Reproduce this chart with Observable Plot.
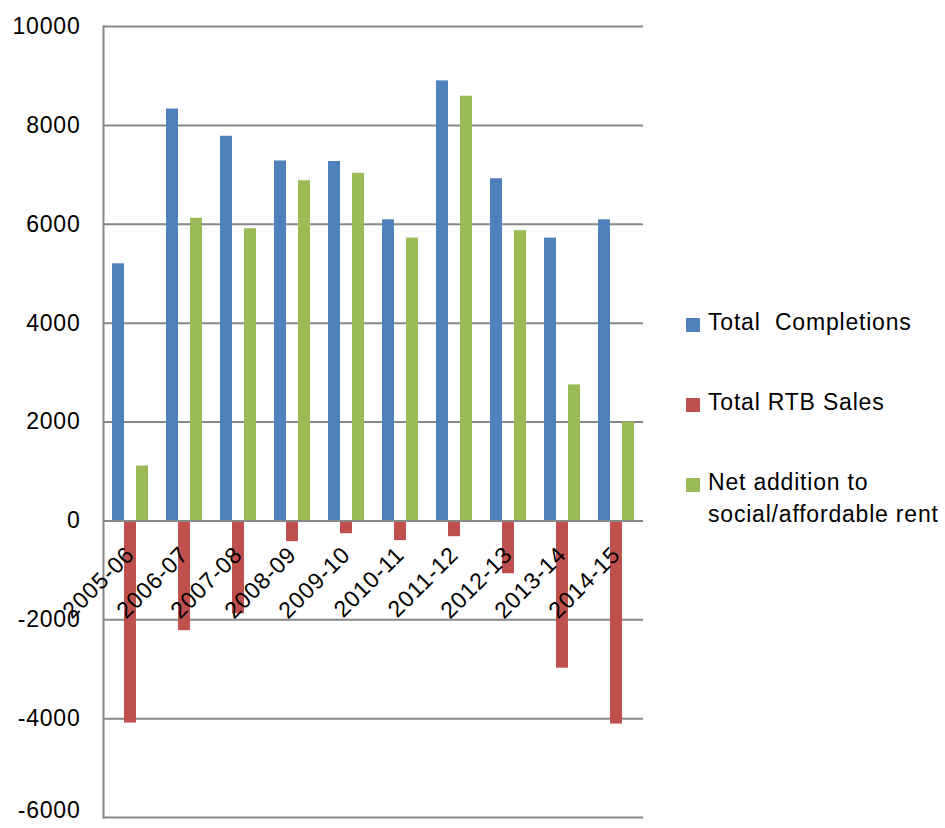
<!DOCTYPE html>
<html>
<head>
<meta charset="utf-8">
<script src="https://cdn.jsdelivr.net/npm/d3@7"></script>
<script src="https://cdn.jsdelivr.net/npm/@observablehq/plot@0.6"></script>
<style>
  html, body { margin: 0; padding: 0; background: #fff; }
  #wrap { position: relative; width: 945px; height: 828px; font-family: "Liberation Sans", Arial, sans-serif; }
  #legend { position: absolute; left: 686px; top: 306px; font-size: 23px; color: #000; letter-spacing: 0.8px; }
  .item { display: flex; align-items: flex-start; height: 80px; }
  .sw { width: 14px; height: 14px; margin-top: 12px; margin-right: 8px; flex: none; }
  .lab { line-height: 32px; white-space: pre; }
</style>
</head>
<body>
<div id="wrap"><div id="chart"></div><div id="legend"></div></div>
<script>
const categories = ["2005-06", "2006-07", "2007-08", "2008-09", "2009-10", "2010-11", "2011-12", "2012-13", "2013-14", "2014-15"];
const completions = [5200, 8330, 7780, 7280, 7270, 6090, 8900, 6920, 5720, 6090];
const rtbSales = [-4090, -2220, -1880, -420, -260, -400, -320, -1070, -2980, -4110];
const netAddition = [1110, 6120, 5910, 6880, 7030, 5720, 8590, 5870, 2750, 2000];
const seriesNames = ["Total  Completions", "Total RTB Sales", "Net addition to\nsocial/affordable rent"];
const seriesColors = ["#4F81BD", "#C0504D", "#9BBB59"];
const yTicks = [-6000, -4000, -2000, 0, 2000, 4000, 6000, 8000, 10000];

const seriesData = [completions, rtbSales, netAddition];
const offsets = [-12, 0, 12];
const gridColor = "#878787";

const barMarks = seriesData.map((vals, s) =>
  Plot.barY(vals, {
    x: (d, i) => categories[i],
    y: d => d,
    fill: seriesColors[s],
    dx: offsets[s],
    insetLeft: 21,
    insetRight: 21
  })
);

const chart = Plot.plot({
  width: 945,
  height: 828,
  marginTop: 26,
  marginBottom: 11,
  marginLeft: 103,
  marginRight: 302,
  style: { fontFamily: "'Liberation Sans', Arial, sans-serif", fontSize: "23px", color: "#000", background: "#fff", letterSpacing: "0.8px" },
  x: { domain: categories, padding: 0, axis: null },
  y: { domain: [-6000, 10000], axis: null },
  marks: [
    Plot.gridY(yTicks, { stroke: gridColor, strokeOpacity: 1, strokeWidth: 2 }),
    ...barMarks,
    Plot.ruleY([0], { stroke: gridColor, strokeWidth: 2 }),
    Plot.frame({ anchor: "left", stroke: gridColor, strokeWidth: 2 }),
    Plot.axisY(yTicks.slice(1), { tickSize: 0, tickPadding: 23, tickFormat: d => String(d), fontSize: 23, fill: "#000" }),
    Plot.axisY(yTicks.slice(0, 1), { tickSize: 0, tickPadding: 23, tickFormat: d => String(d), fontSize: 23, fill: "#000", dy: -7 }),
    Plot.text(categories, { x: d => d, y: () => 0, text: d => d, rotate: -45, textAnchor: "end", dy: 30, fontSize: 23, fill: "#000" })
  ]
});
document.getElementById("chart").appendChild(chart);

const legend = document.getElementById("legend");
seriesNames.forEach((name, i) => {
  const item = document.createElement("div");
  item.className = "item";
  const sw = document.createElement("div");
  sw.className = "sw";
  sw.style.background = seriesColors[i];
  const lab = document.createElement("div");
  lab.className = "lab";
  lab.textContent = name;
  item.appendChild(sw);
  item.appendChild(lab);
  legend.appendChild(item);
});
</script>
</body>
</html>
